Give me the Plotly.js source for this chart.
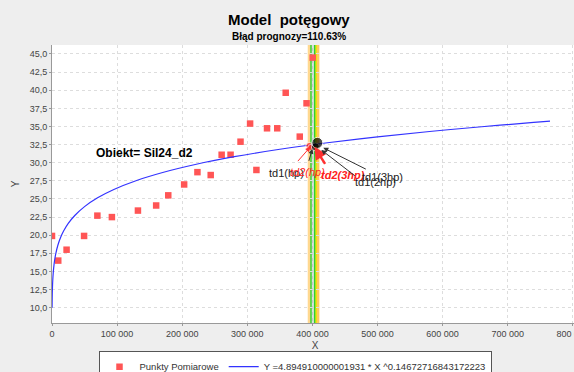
<!DOCTYPE html>
<html>
<head>
<meta charset="utf-8">
<script src="https://cdn.plot.ly/plotly-3.0.1.min.js"></script>
<style>
html,body{margin:0;padding:0;overflow:hidden;background:#EEEEEE;}
#chart{width:590px;height:372px;}
</style>
</head>
<body>
<div id="chart"></div>
<script>
// Measured points (Punkty Pomiarowe)
const pointsX = [0, 9600, 22400, 49300, 69700, 92000, 132000, 160000, 178600, 203000, 223400, 243800, 260600, 274300, 289600, 304300, 314000, 330300, 346000, 359000, 380600, 391000, 400500];
const pointsY = [19.9, 16.5, 18.0, 19.9, 22.7, 22.5, 23.4, 24.1, 25.5, 27.0, 28.7, 28.3, 31.1, 31.1, 32.9, 35.4, 29.0, 34.75, 34.75, 39.65, 33.6, 38.2, 44.5];

// Power model from the legend: Y = A * X ^ B
const modelA = 4.894910000001931;
const modelB = 0.14672716843172223;
const modelX = [130, 200, 400, 700, 1000, 1500, 2500, 4000, 6000, 9000, 13000, 18000, 25000, 35000, 50000, 70000, 95000, 130000, 170000, 220000, 280000, 350000, 420000, 500000, 580000, 660000, 740000, 765000];
const modelY = modelX.map(x => modelA * Math.pow(x, modelB));

// Forecast band lines near X ~ 400 000
const bandX = [395500, 397900, 400500, 403800, 406200, 408800];
const bandColor = ['#FFD890', '#33CC33', '#C8C8C8', '#33CC33', '#E8E800', '#FFC860'];
const bandWidth = [3.5, 1.5, 1.5, 2, 2, 2.5];

// Forecast points
const fcX = [395300, 397500, 404500, 407600];
const fcY = [32.32, 32.1, 32.19, 32.74];
const fcColor = ['#FF2020', '#FF2020', '#000000', '#000000'];
const fcSize = [7, 6, 8, 11];

// Arrow labels
const lblText = ['td1(hp)', 'td2(hp)', 'td2(3hp)', 'td1(2hp)', 'td1(3hp)'];
const lblX = [360100, 392300, 447400, 496500, 507200];
const lblY = [28.6, 28.74, 28.33, 27.36, 28.05];
const lblColor = ['#222222', '#FF2020', '#FF2020', '#222222', '#222222'];
const arrX = [399900, 396900, 403000, 413700, 416800];
const arrY = [31.91, 32.19, 32.19, 31.77, 32.05];
const arrAx = [-4, -14, 12, 35, 44];
const arrAy = [14, 16, 19, 27, 22];

const FONT = 'Liberation Sans, Arial, sans-serif';

const shapes = bandX.map((x, i) => ({
  type: 'line', xref: 'x', yref: 'paper', x0: x, x1: x, y0: 0, y1: 1,
  line: {color: bandColor[i], width: bandWidth[i]}, layer: 'below'
}));

const annotations = [];
lblText.forEach((t, i) => {
  annotations.push({
    x: arrX[i], y: arrY[i], xref: 'x', yref: 'y', text: ' ', showarrow: true,
    ax: arrAx[i], ay: arrAy[i], arrowhead: 2, arrowsize: 1,
    arrowwidth: i === 2 ? 2.5 : 1, arrowcolor: lblColor[i] === '#222222' ? '#333333' : '#FF3030',
    font: {size: 1}
  });
  annotations.push({
    x: lblX[i], y: lblY[i], xref: 'x', yref: 'y',
    text: i === 2 ? '<b><i>' + t + '</i></b>' : (i === 1 ? '<i>' + t + '</i>' : t),
    showarrow: false, font: {family: FONT, size: 11, color: lblColor[i]}
  });
});
annotations.push({
  x: 142000, y: 31.35, xref: 'x', yref: 'y', text: '<b>Obiekt= Sil24_d2</b>', showarrow: false,
  font: {family: FONT, size: 12, color: '#000'}
});
annotations.push({
  x: 0.45, y: 1.09, xref: 'paper', yref: 'paper', yanchor: 'middle', text: '<b>Model  potęgowy</b>', showarrow: false,
  font: {family: FONT, size: 15, color: '#000'}
});
annotations.push({
  x: 0.45, y: 1.029, xref: 'paper', yref: 'paper', yanchor: 'middle', text: '<b>Błąd prognozy=110.63%</b>', showarrow: false,
  font: {family: FONT, size: 10, color: '#000'}
});

const traces = [
  {x: pointsX, y: pointsY, type: 'scatter', mode: 'markers', name: 'Punkty Pomiarowe',
   marker: {symbol: 'square', size: 6.5, color: '#FF5555'}},
  {x: modelX, y: modelY, type: 'scatter', mode: 'lines', name: 'Y =4.894910000001931 * X ^0.14672716843172223',
   line: {color: '#3333FF', width: 1.2, shape: 'spline'}},
  {x: fcX, y: fcY, type: 'scatter', mode: 'markers', showlegend: false,
   marker: {symbol: 'circle', size: fcSize, color: fcColor}}
];

const layout = {
  width: 590, height: 372,
  margin: {l: 52, r: 12, t: 45, b: 49},
  paper_bgcolor: '#EEEEEE', plot_bgcolor: '#FFFFFF',
  separators: ', ',
  font: {family: FONT, size: 9, color: '#444444'},
  showlegend: true,
  legend: {orientation: 'h', x: 0.5, xanchor: 'center', xref: 'container', y: 0.056, yanchor: 'top', yref: 'container',
    bordercolor: '#555555', borderwidth: 1, bgcolor: '#FFFFFF',
    font: {size: 9.5, color: '#333333'}, itemwidth: 30, tracegroupgap: 0},
  xaxis: {range: [0, 808000], tickformat: ',d', dtick: 100000, tick0: 0, automargin: false,
    showgrid: true, gridcolor: '#DDDDDD', griddash: 'dot', zeroline: false,
    showline: true, linecolor: '#999999', ticks: 'outside', ticklen: 2, tickcolor: '#999999',
    title: {text: 'X', font: {size: 10, color: '#444444'}, standoff: 6}},
  yaxis: {range: [7.89, 46.24], tickformat: '.1f', dtick: 2.5, tick0: 0, automargin: false,
    showgrid: true, gridcolor: '#DDDDDD', griddash: 'dot', zeroline: false,
    showline: true, linecolor: '#999999', ticks: 'outside', ticklen: 2, tickcolor: '#999999',
    title: {text: 'Y', font: {size: 10, color: '#444444'}, standoff: 8}},
  shapes: shapes,
  annotations: annotations
};

Plotly.newPlot('chart', traces, layout, {displayModeBar: false, staticPlot: true});
</script>
</body>
</html>
